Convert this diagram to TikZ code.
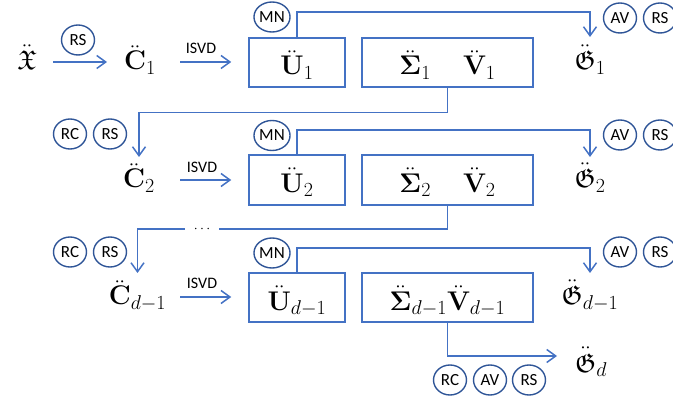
\RequirePackage{fix-cm}
\documentclass[tikz,border=0pt]{standalone}
\usepackage{amssymb}
\DeclareFontFamily{U}{euf}{}
\DeclareFontShape{U}{euf}{m}{n}{<-6>eufm5<6-8>eufm7<8->eufm10}{}
\DeclareFontShape{U}{euf}{b}{n}{<-6>eufb5<6-8>eufb7<8->eufb10}{}
\DeclareMathSizes{27}{27}{20}{15}
\usepackage[no-math]{fontspec}
\newfontfamily\calfont{Carlito}
\usetikzlibrary{arrows.meta,shapes.geometric,calc}
\definecolor{lineblue}{HTML}{4472C4}
\definecolor{ringblue}{HTML}{2F5597}
\begin{document}
\begin{tikzpicture}[x=1pt,y=-1pt,
  conn/.style={draw=lineblue, line width=1.5pt},
  arr/.style={conn, -{Straight Barb[length=9pt,width=13pt]}},
  mth/.style={inner sep=0pt, text height=22pt, text depth=6pt, font=\fontsize{27}{32}\selectfont},
  boxnode/.style={draw=lineblue, line width=1.5pt, inner sep=0pt, text height=28pt, text depth=3pt, font=\fontsize{27}{32}\selectfont, minimum height=49pt},
  tag/.style={ellipse, draw=ringblue, line width=1.4pt, minimum width=33pt, minimum height=30pt, inner sep=0pt, font=\calfont\fontsize{17}{19}\selectfont},
  lab/.style={inner sep=0pt, font=\calfont\fontsize{16}{18}\selectfont},
  dotsnode/.style={inner xsep=9pt, inner ysep=0pt, font=\fontsize{14}{16}\selectfont}]
\useasboundingbox (0,0) rectangle (673,409);
\clip (0,0) rectangle (673,409);

% ---------- row 1 ----------
\node[mth] (X) at (27,62) {$\ddot{\mathfrak{X}}$};
\node[mth] (C1) at (140,62) {$\ddot{\mathbf{C}}_1$};
\node[boxnode, minimum width=96pt] (U1) at (297,62.5) {$\ddot{\mathbf{U}}_1$};
\node[boxnode, minimum width=171pt] (SV1) at (447.5,62.5) {$\ddot{\mathbf{\Sigma}}_1\hspace{32pt}\ddot{\mathbf{V}}_1$};
\node[mth] (G1) at (590,62) {$\ddot{\mathfrak{G}}_1$};

\node[tag] (rs0) at (78,40) {RS};
\node[lab] (isvd1) at (201,48) {ISVD};
\node[tag] (mn1) at (272,17) {MN};
\node[tag] (av1) at (620,18) {AV};
\node[tag] (rs1) at (660,18) {RS};

\draw[arr, shorten <=26pt, shorten >=33pt] (X.center) -- (C1.center);
\draw[arr, shorten <=40pt, shorten >=17pt] (C1.center) -- (C1.center -| U1.west);
\draw[arr, shorten >=25pt] (U1.north) -- ++(0,-25) -| (G1.center);

% ---------- row 2 ----------
\node[mth] (C2) at (139,180) {$\ddot{\mathbf{C}}_2$};
\node[boxnode, minimum width=96pt, minimum height=50pt] (U2) at (297,180) {$\ddot{\mathbf{U}}_2$};
\node[boxnode, minimum width=171pt, minimum height=50pt] (SV2) at (447.5,180) {$\ddot{\mathbf{\Sigma}}_2\hspace{32pt}\ddot{\mathbf{V}}_2$};
\node[mth] (G2) at (590,180) {$\ddot{\mathfrak{G}}_2$};

\node[tag] (rc2) at (70,134) {RC};
\node[tag] (rs2) at (110,134) {RS};
\node[lab] (isvd2) at (202,167) {ISVD};
\node[tag] (mn2) at (272,135.5) {MN};
\node[tag] (av2) at (620,135) {AV};
\node[tag] (rs2b) at (660,135) {RS};

\draw[arr, shorten >=23pt] (SV1.south) -- ++(0,25) -| (C2.center);
\draw[arr, shorten <=41pt, shorten >=17pt] (C2.center) -- (C2.center -| U2.west);
\draw[arr, shorten >=23pt] (U2.north) -- ++(0,-24) -| (G2.center);

% ---------- row 3 ----------
\node[mth] (C3) at (137.5,297) {$\ddot{\mathbf{C}}_{d-1}$};
\node[boxnode, minimum width=96pt] (U3) at (297,297.5) {$\ddot{\mathbf{U}}_{d-1}$};
\node[boxnode, minimum width=171pt] (SV3) at (447.5,297.5) {$\ddot{\mathbf{\Sigma}}_{d-1}\ddot{\mathbf{V}}_{d-1}$};
\node[mth] (G3) at (590,297) {$\ddot{\mathfrak{G}}_{d-1}$};
\node[mth] (Gd) at (591,364) {$\ddot{\mathfrak{G}}_{d}$};

\node[dotsnode] (dots) at (202,229) {$\cdots$};
\node[tag] (rc3) at (70,252) {RC};
\node[tag] (rs3) at (110,252) {RS};
\node[lab] (isvd3) at (202,283) {ISVD};
\node[tag] (mn3) at (272,253) {MN};
\node[tag] (av3) at (620,252) {AV};
\node[tag] (rs3b) at (660,252) {RS};

\node[tag] (rc4) at (450,380) {RC};
\node[tag] (av4) at (490,380) {AV};
\node[tag] (rs4) at (529,380) {RS};

\draw[conn] (SV2.south) |- (dots.east);
\draw[arr, shorten >=24pt] (dots.west) -| (C3.center);
\draw[arr, shorten <=42.5pt, shorten >=17pt] (C3.center) -- (C3.center -| U3.west);
\draw[arr, shorten >=24pt] (U3.north) -- ++(0,-24) -| (G3.center);
\draw[arr, shorten >=34pt] (SV3.south) |- ([yshift=8pt]Gd.center);
\end{tikzpicture}
\end{document}
